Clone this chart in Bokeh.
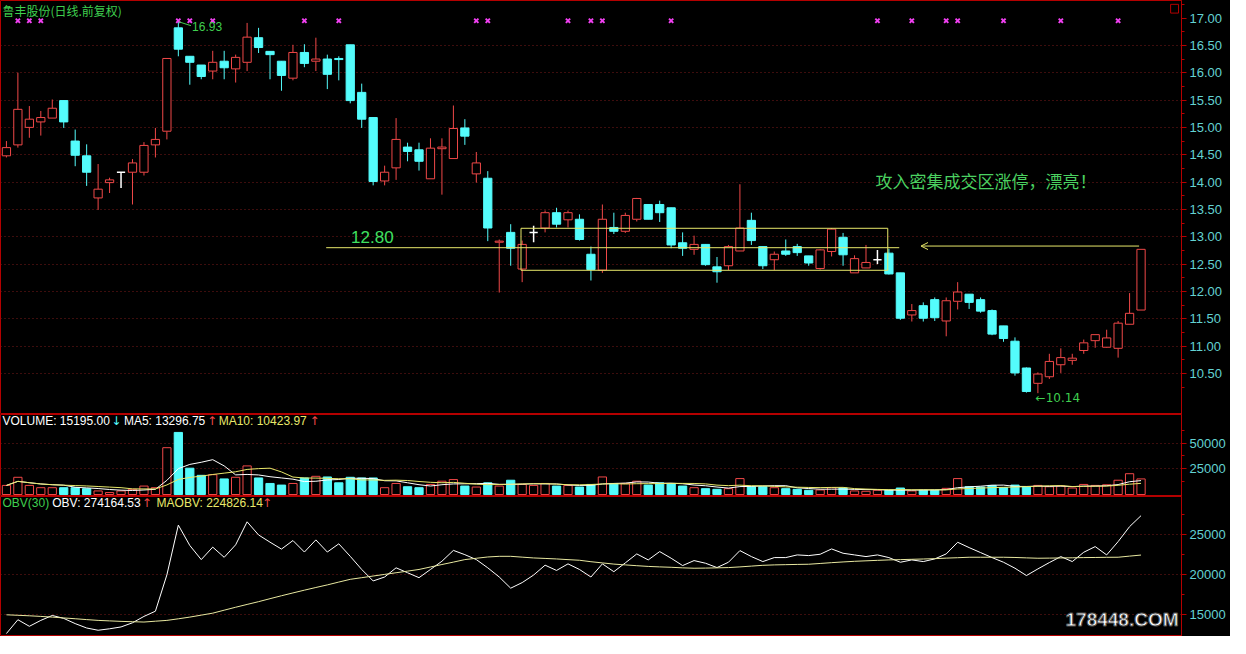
import numpy as np
import pandas as pd
from bokeh.plotting import figure
from bokeh.layouts import column
from bokeh.models import (Range1d, FixedTicker, NumeralTickFormatter,
                          Label, Arrow, OpenHead)
from bokeh.embed import file_html
from bokeh.resources import INLINE

# ---------------- data ----------------
opens = [14.48, 14.68, 15.00, 15.10, 15.17, 15.49, 14.75, 14.48, 13.71, 13.99,
         14.18, 14.18, 14.18, 14.68, 14.93, 16.82, 16.30, 16.14, 16.03, 16.21,
         16.07, 16.19, 16.64, 16.39, 16.21, 15.90, 16.37, 16.21, 16.25, 16.26,
         16.51, 15.64, 15.18, 14.02, 14.26, 14.64, 14.59, 14.06, 14.61, 14.43,
         14.99, 14.15, 14.07, 12.90, 13.08, 12.41, 13.08, 13.16, 13.44, 13.31,
         13.32, 12.68, 12.39, 13.17, 13.10, 13.32, 13.59, 13.59, 13.53, 12.89,
         12.77, 12.86, 12.45, 12.47, 12.74, 13.30, 12.82, 12.58, 12.74, 12.82,
         12.65, 12.42, 12.73, 12.99, 12.34, 12.43, 12.58, 12.70, 12.34, 11.57,
         11.74, 11.85, 11.46, 11.82, 11.95, 11.85, 11.65, 11.37, 11.09, 10.60,
         10.32, 10.44, 10.66, 10.74, 10.92, 11.10, 10.98, 10.96, 11.40, 11.66]
highs = [14.75, 16.00, 15.39, 15.30, 15.51, 15.49, 14.96, 14.69, 14.33, 14.08,
         14.18, 14.42, 14.73, 14.99, 16.26, 16.93, 16.30, 16.14, 16.40, 16.40,
         16.33, 16.91, 16.82, 16.39, 16.21, 16.51, 16.52, 16.64, 16.33, 16.30,
         16.51, 15.80, 15.18, 14.30, 15.17, 14.72, 14.72, 14.80, 14.80, 15.40,
         15.15, 14.55, 14.20, 12.95, 13.23, 12.93, 13.20, 13.48, 13.53, 13.48,
         13.41, 12.82, 13.59, 13.44, 13.44, 13.71, 13.59, 13.66, 13.53, 13.08,
         13.02, 12.86, 12.63, 12.85, 13.96, 13.44, 12.82, 12.73, 12.95, 12.87,
         12.65, 12.77, 13.16, 13.07, 12.66, 12.85, 12.76, 12.78, 12.34, 11.77,
         11.80, 11.89, 11.89, 12.17, 11.95, 11.89, 11.67, 11.37, 11.16, 10.61,
         10.52, 10.86, 10.96, 10.86, 11.12, 11.21, 11.30, 11.46, 11.97, 12.77]
lows = [14.45, 14.63, 14.81, 14.85, 15.17, 14.99, 14.29, 13.93, 13.49, 13.80,
        13.89, 13.59, 14.12, 14.45, 14.78, 16.30, 15.78, 15.88, 15.88, 15.88,
        15.82, 16.03, 16.36, 15.88, 15.67, 15.86, 16.10, 16.03, 15.70, 15.86,
        15.44, 14.99, 13.94, 13.94, 14.04, 14.38, 14.21, 14.06, 13.77, 14.43,
        14.68, 13.99, 12.92, 11.98, 12.47, 12.17, 12.90, 13.08, 13.17, 13.17,
        12.93, 12.20, 12.34, 13.05, 13.07, 13.28, 13.32, 13.27, 12.79, 12.65,
        12.67, 12.47, 12.16, 12.39, 12.74, 12.85, 12.41, 12.39, 12.65, 12.65,
        12.47, 12.40, 12.64, 12.47, 12.34, 12.43, 12.50, 12.31, 11.48, 11.45,
        11.45, 11.46, 11.18, 11.67, 11.68, 11.61, 11.20, 11.08, 10.46, 10.15,
        10.14, 10.40, 10.51, 10.66, 10.86, 10.97, 10.97, 10.79, 11.40, 11.66]
closes = [14.63, 15.33, 15.15, 15.18, 15.35, 15.10, 14.49, 14.18, 13.87, 14.04,
          14.18, 14.35, 14.67, 14.78, 16.26, 16.43, 16.19, 15.93, 16.19, 16.09,
          16.28, 16.65, 16.46, 16.33, 15.95, 16.37, 16.17, 16.25, 15.97, 16.24,
          15.49, 15.15, 14.01, 14.18, 14.78, 14.56, 14.38, 14.62, 14.64, 14.98,
          14.84, 14.35, 13.16, 12.92, 12.79, 12.86, 13.08, 13.44, 13.23, 13.44,
          12.95, 12.40, 13.32, 13.10, 13.39, 13.70, 13.32, 13.44, 12.85, 12.79,
          12.86, 12.49, 12.36, 12.82, 13.16, 12.93, 12.47, 12.68, 12.68, 12.71,
          12.52, 12.76, 13.14, 12.67, 12.60, 12.53, 12.58, 12.32, 11.51, 11.65,
          11.51, 11.52, 11.83, 11.99, 11.80, 11.64, 11.22, 11.14, 10.51, 10.17,
          10.49, 10.72, 10.79, 10.78, 11.06, 11.21, 11.15, 11.42, 11.60, 12.77]
volumes = [8860, 16770, 8860, 6650, 6650, 6650, 6650, 5700, 3480, 1900,
           3480, 5060, 8230, 6650, 45570, 60440, 25630, 18670, 19300, 15190,
           16770, 27850, 16140, 10760, 9180, 10760, 16140, 17720, 17090, 11390,
           16770, 16140, 16140, 6650, 10760, 7590, 6650, 9810, 12970, 14560,
           8230, 7280, 11390, 8230, 13920, 9810, 8860, 10760, 8230, 8860,
           7280, 9810, 17090, 10760, 10760, 12970, 9180, 11390, 10760, 8230,
           6650, 5700, 5060, 5700, 15510, 7590, 7590, 6650, 5700, 5060,
           4110, 4430, 6650, 6330, 3480, 3160, 4110, 4110, 6330, 3480,
           4110, 4110, 6010, 15510, 7590, 7280, 8860, 6650, 9180, 7280,
           8860, 7590, 8230, 6330, 9810, 8860, 9490, 13920, 20250, 15195]
obv_vals = [12655, 14384, 13560, 14300, 14918, 14550, 13900, 13350, 13066, 13250,
            13480, 14000, 14800, 15453, 20000, 26234, 23683, 21914, 23477, 22200,
            23766, 26646, 25000, 24095, 23230, 24300, 22860, 24383, 22860, 23889,
            22325, 20679, 19240, 19733, 20885, 20268, 19650, 20679, 21708, 23066,
            22531, 21914, 20885, 19733, 18334, 19033, 19980, 21214, 20556, 21379,
            20679, 19733, 21379, 20400, 21500, 22625, 21875, 22917, 22083, 21166,
            21791, 21458, 20916, 21583, 23041, 22291, 21666, 22166, 22166, 22500,
            22416, 22583, 23250, 22708, 22500, 22291, 22500, 22166, 21583, 21875,
            21666, 22000, 22625, 24083, 23416, 22791, 22166, 21583, 20833, 19916,
            20750, 21541, 22291, 21666, 22833, 23541, 22500, 24166, 26041, 27416]
maobv_vals = [15000, 14940, 14877, 14800, 14713, 14610, 14507, 14400, 14300, 14240,
              14177, 14136, 14095, 14200, 14300, 14500, 14713, 14960, 15206, 15580,
              15947, 16300, 16647, 17020, 17387, 17740, 18087, 18420, 18745, 19100,
              19445, 19650, 19856, 20060, 20268, 20470, 20679, 20990, 21297, 21600,
              21914, 22080, 22243, 22325, 22325, 22220, 22120, 22060, 21996, 21910,
              21832, 21650, 21500, 21350, 21250, 21150, 21060, 21000, 20950, 20880,
              20833, 20850, 20880, 20916, 21000, 21100, 21200, 21250, 21280, 21310,
              21333, 21430, 21530, 21620, 21700, 21760, 21820, 21875, 21910, 21950,
              21990, 22030, 22100, 22150, 22208, 22208, 22208, 22208, 22180, 22130,
              22083, 22100, 22120, 22140, 22166, 22180, 22200, 22208, 22350, 22483]
signal_days = [1, 2, 3, 15, 16, 18, 26, 29, 41, 42, 49, 51, 52, 58, 76, 79, 82, 83, 87, 92, 97]

price_ticks = [10.5, 11.0, 11.5, 12.0, 12.5, 13.0, 13.5, 14.0, 14.5, 15.0, 15.5, 16.0, 16.5, 17.0]
price_grid = [10.5, 11.0, 11.5, 12.0, 12.5, 13.0, 13.5, 14.0, 14.5, 15.0, 15.5, 16.0, 16.5]
vol_ticks = [25000, 50000]
obv_ticks = [15000, 20000, 25000]

title_text = "鲁丰股份(日线.前复权)"
note_text = "攻入密集成交区涨停，漂亮！"

# ---------------- styling ----------------
RED = "#F04848"
CYAN = "#54FCFC"
WHITE = "#FFFFFF"
YEL = "#E8E86A"
AXRED = "#B40000"
GRID = "#7A1A1A"
LBL = "#63D2D2"
GREEN = "#3FCF4F"
FW = 1181
xr = Range1d(-0.517, 102.53)

o = np.array(opens); h = np.array(highs); l = np.array(lows); c = np.array(closes)
x = np.arange(len(o))
up = c > o
dn = c < o
flat = c == o
btop = np.maximum(o, c)
bbot = np.minimum(o, c)


def make_fig(fh, yr):
    p = figure(frame_width=FW, frame_height=fh, x_range=xr, y_range=yr,
               y_axis_location="right", x_axis_location=None,
               output_backend="svg", toolbar_location=None,
               background_fill_color="black", border_fill_color="black",
               min_border_left=0, min_border_right=49, min_border_top=0, min_border_bottom=0)
    p.outline_line_color = AXRED
    p.xgrid.visible = False
    return p


def style_axis(p, ticks, minor, fmt, grid_ticks):
    ax = p.yaxis[0]
    ax.ticker = FixedTicker(ticks=ticks, minor_ticks=minor)
    ax.formatter = NumeralTickFormatter(format=fmt)
    ax.axis_line_color = AXRED
    ax.major_tick_line_color = AXRED
    ax.minor_tick_line_color = AXRED
    ax.major_tick_out = 5
    ax.major_tick_in = 0
    ax.minor_tick_out = 3
    ax.minor_tick_in = 0
    ax.major_label_text_color = LBL
    ax.major_label_text_font = "Liberation Sans"
    ax.major_label_text_font_size = "13px"
    ax.major_label_standoff = 3
    p.ygrid.ticker = FixedTicker(ticks=grid_ticks)
    p.ygrid.grid_line_color = GRID
    p.ygrid.grid_line_dash = "1 3"


# ---------------- main price panel ----------------
p1 = make_fig(414, Range1d(9.75, 17.32))
style_axis(p1, price_ticks, [v + 0.25 for v in price_ticks[:-1]] + [10.25, 17.25], "0.00", price_grid)

# wicks
p1.segment(x0=x[up], y0=h[up], x1=x[up], y1=btop[up], color=RED, line_width=1)
p1.segment(x0=x[up], y0=bbot[up], x1=x[up], y1=l[up], color=RED, line_width=1)
p1.segment(x0=x[dn], y0=h[dn], x1=x[dn], y1=l[dn], color=CYAN, line_width=1)
p1.segment(x0=x[flat], y0=h[flat], x1=x[flat], y1=l[flat], color=WHITE, line_width=1.5)
p1.segment(x0=x[flat] - 0.36, y0=o[flat], x1=x[flat] + 0.36, y1=o[flat], color=WHITE, line_width=1.5)
# bodies
p1.vbar(x=x[up], width=0.72, top=btop[up], bottom=bbot[up], fill_color="black", line_color=RED)
p1.vbar(x=x[dn], width=0.72, top=btop[dn], bottom=bbot[dn], fill_color=CYAN, line_color=CYAN)

# signal markers
p1.scatter(x=signal_days, y=[16.95] * len(signal_days), marker="x", size=6,
           line_color="#F040F0", line_width=2)

# annotations
p1.add_layout(Label(x=-0.345, y=17.29, text=title_text, text_color=GREEN,
                    text_font="Noto Sans CJK SC", text_font_size="12px", text_baseline="top"))
p1.segment(x0=[15.05], y0=[16.93], x1=[16.1], y1=[16.86], color=GREEN, line_width=1)
p1.add_layout(Label(x=16.2, y=16.84, text="16.93", text_color=GREEN,
                    text_font="Liberation Sans", text_font_size="12px", text_baseline="middle"))
p1.segment(x0=[27.9], y0=[12.80], x1=[77.9], y1=[12.80], color=YEL, line_width=1)
p1.add_layout(Label(x=30.07, y=12.99, text="12.80", text_color="#40E060",
                    text_font="Liberation Sans", text_font_size="17px", text_baseline="middle"))
p1.quad(left=[44.9], right=[76.9], bottom=[12.387], top=[13.155], fill_alpha=0,
        line_color=YEL, line_width=1)
p1.add_layout(Arrow(end=OpenHead(size=7, line_color=YEL, line_width=1),
                    x_start=98.83, y_start=12.83, x_end=79.8, y_end=12.83,
                    line_color=YEL, line_width=1))
p1.add_layout(Label(x=75.82, y=14.02, text=note_text, text_color="#4BD160",
                    text_font="Noto Sans CJK SC", text_font_size="17px", text_baseline="middle"))
p1.add_layout(Label(x=89.8, y=10.045, text="←10.14", text_color=GREEN,
                    text_font="DejaVu Sans", text_font_size="12px", text_baseline="middle"))
p1.quad(left=[101.58], right=[102.27], bottom=[17.09], top=[17.25], fill_alpha=0,
        line_color=AXRED, line_width=1)

# ---------------- volume panel ----------------
vol = np.array(volumes, dtype=float)
ma5 = pd.Series(vol).rolling(5, min_periods=1).mean().values
ma10 = pd.Series(vol).rolling(10, min_periods=1).mean().values
vup = ~dn

p2 = make_fig(82, Range1d(-1923, 77885))
style_axis(p2, vol_ticks, [12500, 37500, 62500], "0", vol_ticks)
p2.vbar(x=x[vup], width=0.72, top=vol[vup], bottom=0, fill_color="black", line_color=RED)
p2.vbar(x=x[dn], width=0.72, top=vol[dn], bottom=0, fill_color=CYAN, line_color=CYAN)
p2.line(x, ma5, color=WHITE, line_width=1)
p2.line(x, ma10, color=YEL, line_width=1)

hy = 71635
for tx, txt, col, fnt in [(-0.345, "VOLUME: 15195.00", WHITE, "Liberation Sans"),
                          (9.15, "↓", CYAN, "DejaVu Sans"),
                          (10.25, "MA5: 13296.75", WHITE, "Liberation Sans"),
                          (17.5, "↑", RED, "DejaVu Sans"),
                          (18.52, "MA10: 10423.97", YEL, "Liberation Sans"),
                          (26.45, "↑", RED, "DejaVu Sans")]:
    p2.add_layout(Label(x=tx, y=hy, text=txt, text_color=col, text_font=fnt,
                        text_font_size="12px", text_baseline="middle"))

# ---------------- OBV panel ----------------
p3 = make_fig(140, Range1d(12284, 29815))
style_axis(p3, obv_ticks, [17500, 22500, 27500], "0", obv_ticks)
p3.line(x, np.array(obv_vals, dtype=float), color=WHITE, line_width=1)
p3.line(x, np.array(maobv_vals, dtype=float), color="#E8E8A0", line_width=1)

oy = 28951
for tx, txt, col, fnt in [(-0.345, "OBV(30)", GREEN, "Liberation Sans"),
                          (4.0, "OBV: 274164.53", WHITE, "Liberation Sans"),
                          (11.8, "↑", RED, "DejaVu Sans"),
                          (13.1, "MAOBV: 224826.14", YEL, "Liberation Sans"),
                          (22.3, "↑", RED, "DejaVu Sans")]:
    p3.add_layout(Label(x=tx, y=oy, text=txt, text_color=col, text_font=fnt,
                        text_font_size="12px", text_baseline="middle"))

# watermark, kept inside the frame (annotations are clipped to it)
p3.add_layout(Label(x=1178, y=17, x_units="screen", y_units="screen",
                    text="178448.COM", text_color=WHITE, text_align="right",
                    text_font="Liberation Sans", text_font_style="bold",
                    text_font_size="19px", text_baseline="middle",
                    text_outline_color="#505050"))

layout = column(p1, p2, p3, spacing=0)
layout.styles = {"background-color": "black"}

html = file_html(layout, INLINE)
html = html.replace("<body>", '<body style="background-color:black;">', 1)
with open("out.html", "w") as f:
    f.write(html)
